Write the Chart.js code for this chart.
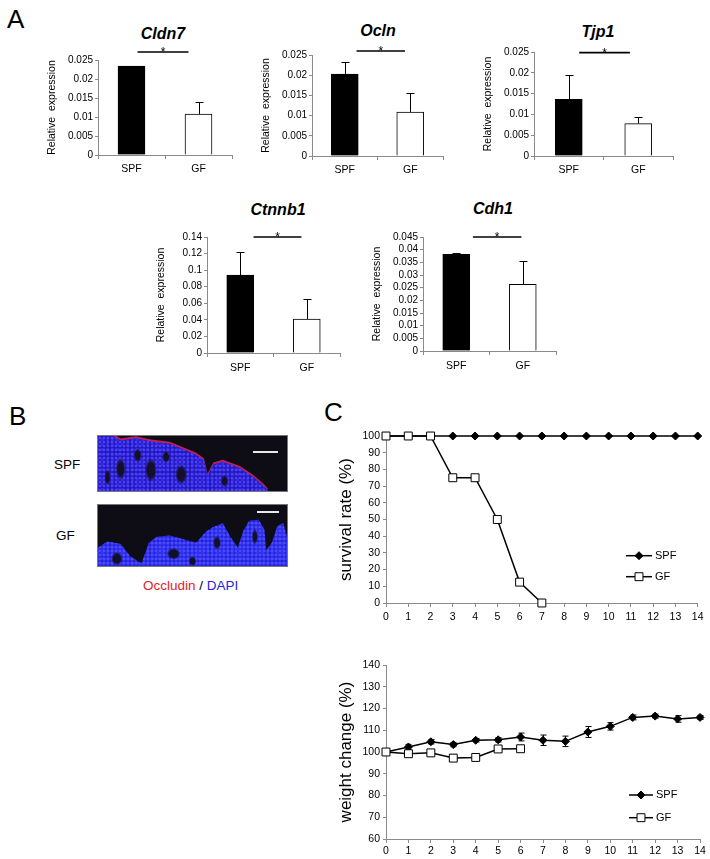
<!DOCTYPE html>
<html><head><meta charset="utf-8">
<script src="https://cdn.jsdelivr.net/npm/chart.js@4/dist/chart.umd.min.js"></script>
<style>
html,body{margin:0;padding:0;background:#fff;}
body{width:710px;height:859px;position:relative;overflow:hidden;font-family:Arial,"Liberation Sans",sans-serif;}
.cv{position:absolute;}
.txt{position:absolute;color:#000;white-space:nowrap;line-height:1;}
.panel{position:absolute;font-size:26px;line-height:1;color:#000;}
.gene{position:absolute;font-weight:bold;font-style:italic;font-size:16px;line-height:1;transform:translate(-50%,-50%);white-space:nowrap;}
.micro{position:absolute;background:#0e0c14;overflow:hidden;box-shadow:0 0 0 1px #777;}
.layer{position:absolute;left:0;top:0;width:100%;height:100%;}
.sbar{position:absolute;height:2px;background:#e8e8e8;}
</style></head>
<body>
<div class="panel" style="left:7px;top:6px;">A</div>
<div class="panel" style="left:9px;top:403px;">B</div>
<div class="panel" style="left:324px;top:399px;">C</div>

<div class="gene" style="left:163px;top:34px;">Cldn7</div>
<div class="gene" style="left:378px;top:31px;">Ocln</div>
<div class="gene" style="left:598px;top:32px;">Tjp1</div>
<div class="gene" style="left:278px;top:210px;">Ctnnb1</div>
<div class="gene" style="left:493px;top:209px;">Cdh1</div>

<!-- Panel B: micrograph look-alikes -->
<div class="txt" style="left:54px;top:458px;font-size:13.5px;">SPF</div>
<div class="txt" style="left:56px;top:529px;font-size:13.5px;">GF</div>
<div class="micro" style="left:98px;top:436px;width:189px;height:55px;">
  <div class="layer" style="background:#c0205a;transform:translateY(-2px);clip-path:polygon(0% 0%,8% 0%,12% 8%,20% 4%,28% 10%,38% 14%,45% 24%,52% 34%,56% 44%,58% 72%,61% 52%,66% 47%,75% 58%,82% 74%,88% 92%,90% 100%,0% 100%);"></div>
  <div class="layer" style="clip-path:polygon(0% 0%,8% 0%,12% 8%,20% 4%,28% 10%,38% 14%,45% 24%,52% 34%,56% 44%,58% 72%,61% 52%,66% 47%,75% 58%,82% 74%,88% 92%,90% 100%,0% 100%);
    background:
      radial-gradient(5px 11px at 12% 60%, #14102a 60%, transparent 100%),
      radial-gradient(6px 12px at 28% 62%, #14102a 60%, transparent 100%),
      radial-gradient(6px 10px at 44% 70%, #14102a 60%, transparent 100%),
      radial-gradient(4px 7px at 21% 35%, #14102a 60%, transparent 100%),
      radial-gradient(4px 6px at 36% 38%, #14102a 60%, transparent 100%),
      radial-gradient(4px 6px at 67% 82%, #14102a 60%, transparent 100%),
      radial-gradient(3px 8px at 5% 75%, #14102a 60%, transparent 100%),
      radial-gradient(circle, #4b40ff 0 1.1px, transparent 1.7px) 0 0/4px 4px,
      radial-gradient(circle, #3328e0 0 1.4px, transparent 2px) 2px 1px/5px 5px,
      #2218b4;"></div>
  <div class="sbar" style="left:155px;top:15px;width:25px;"></div>
</div>
<div class="micro" style="left:98px;top:505px;width:189px;height:61px;">
  <div class="layer" style="clip-path:polygon(0% 100%,0% 70%,5% 60%,12% 64%,17% 84%,23% 96%,27% 62%,31% 52%,38% 50%,45% 56%,52% 62%,57% 44%,61% 36%,66% 30%,70% 52%,74% 70%,77% 42%,80% 26%,85% 24%,88% 40%,89% 74%,92% 62%,95% 34%,98% 30%,100% 52%,100% 100%);
    background:
      radial-gradient(6px 7px at 10% 88%, #10102a 60%, transparent 100%),
      radial-gradient(7px 6px at 40% 80%, #10102a 60%, transparent 100%),
      radial-gradient(4px 7px at 63% 62%, #10102a 60%, transparent 100%),
      radial-gradient(3px 8px at 83% 52%, #10102a 60%, transparent 100%),
      radial-gradient(4px 5px at 50% 92%, #10102a 60%, transparent 100%),
      radial-gradient(circle, #4a4aff 0 1.2px, transparent 1.8px) 0 0/4px 4px,
      radial-gradient(circle, #2f2ff0 0 1.4px, transparent 2px) 2px 1px/5px 5px,
      #2222d8;"></div>
  <div class="sbar" style="left:159px;top:6px;width:22px;"></div>
</div>
<div class="txt" style="left:143px;top:579px;font-size:13.5px;"><span style="color:#e0202a;">Occludin</span> / <span style="color:#2424dc;">DAPI</span></div>

<script>
// ---------------- DATA ----------------
const groups = ['SPF', 'GF'];
const geneNames = ['Cldn7', 'Ocln', 'Tjp1', 'Ctnnb1', 'Cdh1'];

const cldn7Mean  = [0.0234, 0.0108];
const cldn7Err   = [0.0001, 0.0031];
const oclnMean   = [0.0203, 0.0109];
const oclnErr    = [0.0029, 0.0047];
const tjp1Mean   = [0.0136, 0.0078];
const tjp1Err    = [0.0058, 0.0016];
const ctnnb1Mean = [0.094, 0.041];
const ctnnb1Err  = [0.028, 0.024];
const cdh1Mean   = [0.0382, 0.0263];
const cdh1Err    = [0.0004, 0.0091];

const relMax  = [0.025, 0.025, 0.025, 0.14, 0.045];
const relStep = [0.005, 0.005, 0.005, 0.02, 0.005];

const days = [0,1,2,3,4,5,6,7,8,9,10,11,12,13,14];
const survivalSPF = [100,100,100,100,100,100,100,100,100,100,100,100,100,100,100];
const survivalGF  = [100,100,100,75,75,50,12.5,0];

const weightSPF    = [100,102.3,104.7,103.4,105.4,105.6,106.9,105.4,104.9,109.2,111.8,115.9,116.5,115.2,115.9];
const weightSPFErr = [0.3,1.2,1.0,1.0,0.8,1.0,1.8,2.4,2.4,2.5,1.7,1.1,0.9,1.5,0.9];
const weightGF     = [100,99.2,99.6,97.2,97.5,101.4,101.5];
const weightGFErr  = [0.3,0.6,0.6,1.5,1.5,0.6,0.6];

const survivalRange = [0, 100, 10];
const weightRange   = [60, 140, 10];

// ---------------- PLUGINS ----------------
const barExtras = {
  id: 'barExtras',
  afterDatasetsDraw(chart, args, o) {
    if (!o || !o.err) return;
    const ctx = chart.ctx, ys = chart.scales.y, xs = chart.scales.x;
    const ds = chart.data.datasets[0];
    const meta = chart.getDatasetMeta(0);
    ctx.save();
    ctx.strokeStyle = '#000'; ctx.lineWidth = 1;
    meta.data.forEach((bar, i) => {
      const yt = Math.round(ys.getPixelForValue(ds.data[i] + o.err[i])) + 0.5;
      const x = Math.round(bar.x) + 0.5;
      ctx.beginPath();
      ctx.moveTo(x, bar.y); ctx.lineTo(x, yt);
      ctx.moveTo(x - 4, yt); ctx.lineTo(x + 4, yt);
      ctx.stroke();
    });
    const y = chart.chartArea.top + o.sig[2];
    const x1 = xs.getPixelForValue(o.sig[0]), x2 = xs.getPixelForValue(o.sig[1]);
    ctx.lineWidth = 1.6;
    ctx.beginPath(); ctx.moveTo(x1, y); ctx.lineTo(x2, y); ctx.stroke();
    ctx.fillStyle = '#000'; ctx.font = '12px Arial, "Liberation Sans", sans-serif';
    ctx.textAlign = 'center'; ctx.textBaseline = 'alphabetic';
    ctx.fillText('*', (x1 + x2) / 2, y + 4);
    ctx.restore();
  }
};

const errBars = {
  id: 'errBars',
  beforeDatasetsDraw(chart, args, o) {
    if (!o || !o.errs) return;
    const ctx = chart.ctx, ys = chart.scales.y;
    ctx.save(); ctx.strokeStyle = '#000'; ctx.lineWidth = 1;
    o.errs.forEach((errs, di) => {
      const ds = chart.data.datasets[di];
      const meta = chart.getDatasetMeta(di);
      meta.data.forEach((pt, i) => {
        const v = ds.data[i].y, e = errs[i];
        const y1 = ys.getPixelForValue(v + e), y2 = ys.getPixelForValue(v - e);
        const x = Math.round(pt.x) + 0.5;
        ctx.beginPath();
        ctx.moveTo(x, y1); ctx.lineTo(x, y2);
        ctx.moveTo(x - 3, y1); ctx.lineTo(x + 3, y1);
        ctx.moveTo(x - 3, y2); ctx.lineTo(x + 3, y2);
        ctx.stroke();
      });
    });
    ctx.restore();
  }
};

const lineLegend = {
  id: 'lineLegend',
  afterDraw(chart, args, o) {
    if (!o || !o.order) return;
    const ctx = chart.ctx, ca = chart.chartArea;
    o.order.forEach((di, k) => {
      const ds = chart.data.datasets[di];
      const y = ca.top + o.y[k], x0 = ca.left + o.x0, x1 = ca.left + o.x1;
      ctx.save();
      ctx.strokeStyle = '#000'; ctx.lineWidth = 1.5;
      ctx.beginPath(); ctx.moveTo(x0, y); ctx.lineTo(x1, y); ctx.stroke();
      ctx.fillStyle = ds.pointBackgroundColor; ctx.strokeStyle = ds.pointBorderColor;
      ctx.lineWidth = ds.pointBorderWidth;
      Chart.helpers.drawPoint(ctx, {pointStyle: ds.pointStyle, radius: ds.pointRadius, borderWidth: ds.pointBorderWidth, rotation: 0}, (x0 + x1) / 2, y);
      ctx.fillStyle = '#000'; ctx.font = '11px Arial, "Liberation Sans", sans-serif';
      ctx.textAlign = 'left'; ctx.textBaseline = 'middle';
      ctx.fillText(ds.label, x1 + 3, y);
      ctx.restore();
    });
  }
};

const FONT = 'Arial, "Liberation Sans", sans-serif';
const AX = '#8a8a8a';

function addCanvas(L, T, W, H) {
  const cv = document.createElement('canvas');
  cv.width = Math.round(W); cv.height = Math.round(H);
  cv.className = 'cv';
  cv.style.left = L + 'px'; cv.style.top = T + 'px';
  cv.style.width = Math.round(W) + 'px'; cv.style.height = Math.round(H) + 'px';
  document.body.appendChild(cv);
  return cv;
}

// ---------------- BAR CHARTS (panel A) ----------------
function barChart(mean, err, k, box, sig, xh, xpad) {
  const padTop = 40, yW = 52, padR = 8;
  const L = box[0] - yW, T = box[2] - padTop;
  const W = box[1] + padR - L, H = box[3] + xh - T;
  const cv = addCanvas(L, T, W, H);
  new Chart(cv, {
    type: 'bar',
    data: { labels: groups, datasets: [{ data: mean, backgroundColor: ['#000', '#fff'], borderColor: '#000', borderWidth: 1, barThickness: 27 }] },
    options: {
      responsive: false, animation: false, devicePixelRatio: 1,
      layout: { padding: { left: 0, top: padTop, right: W - (box[1] - L), bottom: 0 } },
      plugins: { legend: { display: false }, tooltip: { enabled: false }, barExtras: { err: err, sig: sig } },
      scales: {
        x: {
          grid: { display: true, drawOnChartArea: false, drawTicks: true, tickLength: 4, color: AX, offset: true },
          border: { color: AX, width: 1 },
          ticks: { color: '#000', font: { family: FONT, size: 10.5 }, padding: xpad },
          afterFit: s => { s.height = xh; }
        },
        y: {
          min: 0, max: relMax[k],
          grid: { display: true, drawOnChartArea: false, drawTicks: true, tickLength: 3, color: AX },
          border: { color: AX, width: 1 },
          ticks: { stepSize: relStep[k], autoSkip: false, color: '#000', font: { family: FONT, size: 10 }, padding: 2,
                   callback: v => String(+(+v).toFixed(4)) },
          title: { display: true, text: 'Relative  expression', color: '#000', font: { family: FONT, size: 10.5 }, padding: 0 },
          afterFit: s => { s.width = yW; }
        }
      }
    },
    plugins: [barExtras]
  });
}

barChart(cldn7Mean,  cldn7Err,  0, [97.7, 232, 60.3, 155.7], [0.09, 0.85, -8], 22, 4);
barChart(oclnMean,   oclnErr,   1, [311.7, 443, 55, 155.7], [0.18, 0.92, -4], 22, 4);
barChart(tjp1Mean,   tjp1Err,   2, [534, 673, 51.7, 155.7], [0.15, 0.88, 0.6], 22, 4);
barChart(ctnnb1Mean, ctnnb1Err, 3, [207.3, 340.3, 236.7, 352.2], [0.2, 0.92, 0], 24, 5);
barChart(cdh1Mean,   cdh1Err,   4, [422.7, 555.7, 236.7, 351], [0.25, 0.98, 0], 24, 5);

// ---------------- LINE CHARTS (panel C) ----------------
function lineChart(box, range, title, seriesSPF, seriesGF, errs, legend, xh, xpad) {
  const padTop = 14, yW = 50;
  const L = box[0] - yW, T = box[2] - padTop;
  const W = 710 - L, H = box[3] + xh - T;
  const cv = addCanvas(L, T, W, H);
  const mk = arr => arr.map((v, i) => ({ x: days[i], y: v }));
  new Chart(cv, {
    type: 'line',
    data: {
      datasets: [
        { label: 'SPF', data: mk(seriesSPF), borderColor: '#000', borderWidth: 1.5, tension: 0, clip: false,
          pointStyle: 'rectRot', pointRadius: 4, pointBackgroundColor: '#000', pointBorderColor: '#000', pointBorderWidth: 1, order: 2 },
        { label: 'GF', data: mk(seriesGF), borderColor: '#000', borderWidth: 1.5, tension: 0, clip: false,
          pointStyle: 'rect', pointRadius: 5.6, pointBackgroundColor: '#fff', pointBorderColor: '#000', pointBorderWidth: 1, order: 1 }
      ]
    },
    options: {
      responsive: false, animation: false, devicePixelRatio: 1,
      layout: { padding: { left: 0, top: padTop, right: W - (box[1] - L), bottom: 0 } },
      plugins: { legend: { display: false }, tooltip: { enabled: false }, errBars: errs ? { errs: errs } : {}, lineLegend: legend },
      scales: {
        x: {
          type: 'linear', min: days[0], max: days[days.length - 1],
          grid: { display: true, drawOnChartArea: false, drawTicks: true, tickLength: 4, color: AX },
          border: { color: AX, width: 1 },
          ticks: { stepSize: 1, autoSkip: false, color: '#000', font: { family: FONT, size: 10.5 }, padding: xpad },
          afterFit: s => { s.height = xh; }
        },
        y: {
          min: range[0], max: range[1],
          grid: { display: true, drawOnChartArea: false, drawTicks: true, tickLength: 3, color: AX },
          border: { color: AX, width: 1 },
          ticks: { stepSize: range[2], autoSkip: false, color: '#000', font: { family: FONT, size: 10.5 }, padding: 3 },
          title: { display: true, text: title, color: '#000', font: { family: FONT, size: 17 }, padding: 0 },
          afterFit: s => { s.width = yW; }
        }
      }
    },
    plugins: [errBars, lineLegend]
  });
}

lineChart([386, 697.7, 436, 602.7], survivalRange, 'survival rate (%)', survivalSPF, survivalGF, null,
          { order: [0, 1], x0: 240, x1: 266, y: [119.7, 140.7] }, 24, 4);
lineChart([386, 700, 665, 839], weightRange, 'weight change (%)', weightSPF, weightGF, [weightSPFErr, weightGFErr],
          { order: [0, 1], x0: 243, x1: 267, y: [130, 152.7] }, 20, 2);
</script>
</body></html>
